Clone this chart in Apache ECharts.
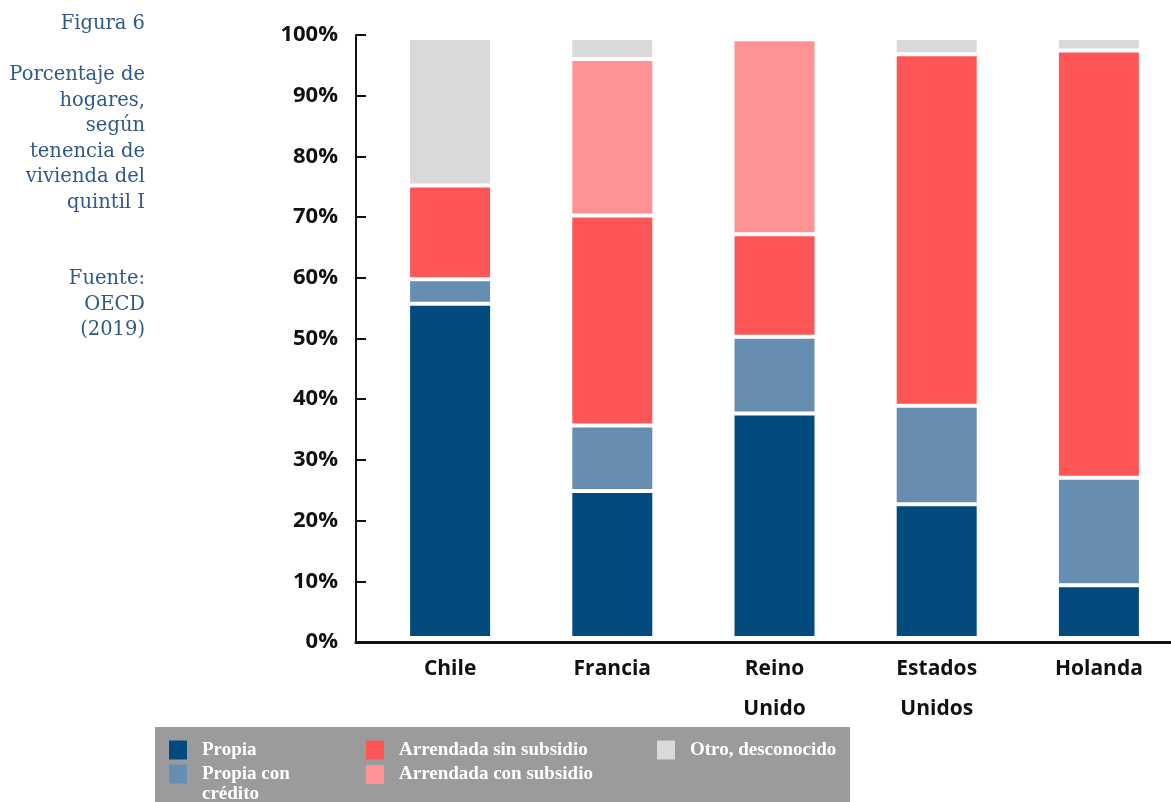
<!DOCTYPE html>
<html>
<head>
<meta charset="utf-8">
<script src="https://cdn.jsdelivr.net/npm/echarts@6/dist/echarts.min.js"></script>
<style>
  html, body { margin: 0; padding: 0; background: #fff; }
  #chart { width: 1171px; height: 802px; }
</style>
</head>
<body>
<div id="chart"></div>
<script>
// Porcentaje de hogares del quintil I según tenencia de vivienda (OECD 2019)
const countries = ['Chile', 'Francia', 'Reino Unido', 'Estados Unidos', 'Holanda'];
const propia = [55.7, 24.5, 37.4, 22.3, 8.8];
const propiaCredito = [4.1, 10.9, 12.8, 16.4, 17.9];
const arrSinSubsidio = [15.6, 35.0, 17.1, 58.6, 71.2];
const arrConSubsidio = [0, 26.1, 32.5, 0, 0];
const otro = [24.6, 3.5, 0, 2.7, 2.1];
const yTicks = [0, 10, 20, 30, 40, 50, 60, 70, 80, 90, 100];

const sideText = [
  'Figura 6', '',
  'Porcentaje de', 'hogares,', 'según', 'tenencia de', 'vivienda del', 'quintil I', '', '',
  'Fuente:', 'OECD', '(2019)'
];

const chart = echarts.init(document.getElementById('chart'));

const barBase = {
  type: 'bar',
  stack: 'total',
  xAxisIndex: 1,
  yAxisIndex: 1,
  barWidth: 84,
  itemStyle: { borderColor: '#fff', borderWidth: 2 }
};

const legendBase = {
  orient: 'vertical',
  top: 740,
  height: 120,
  padding: 0,
  icon: 'rect',
  itemWidth: 18,
  itemHeight: 19,
  itemGap: 4.5,
  itemStyle: { borderWidth: 0 },
  selectedMode: false,
  textStyle: {
    color: '#fff',
    fontFamily: '"Liberation Serif", serif',
    fontWeight: 'bold',
    fontSize: 19,
    lineHeight: 20,
    padding: [0, 0, 0, 10]
  }
};

chart.setOption({
  animation: false,
  backgroundColor: '#fff',
  graphic: [
    {
      type: 'rect',
      shape: { x: 155, y: 727, width: 695, height: 75 },
      style: { fill: '#9b9b9d' },
      z: -1
    },
    {
      type: 'text',
      x: 145,
      y: 11.25,
      style: {
        text: sideText.join('\n'),
        align: 'right',
        verticalAlign: 'top',
        fill: '#2f5a86',
        font: '19.5px "DejaVu Serif", serif',
        lineHeight: 25.5
      }
    }
  ],
  legend: [
    Object.assign({}, legendBase, {
      left: 169,
      // wrapped label: a leading empty line keeps "Propia con" beside its icon
      itemGap: -16,
      data: ['Propia', 'Propia con crédito'],
      formatter: (n) => n === 'Propia con crédito' ? '\nPropia con\ncrédito' : n
    }),
    Object.assign({}, legendBase, {
      left: 366,
      data: ['Arrendada sin subsidio', 'Arrendada con subsidio']
    }),
    Object.assign({}, legendBase, {
      left: 657,
      data: ['Otro, desconocido']
    })
  ],
  grid: [
    // visible axes frame
    { left: 356, right: 0, top: 35, bottom: 160, outerBoundsMode: 'none' },
    // bars
    { left: 369, width: 811, top: 38, bottom: 164, outerBoundsMode: 'none' }
  ],
  xAxis: [
    {
      type: 'value',
      gridIndex: 0,
      min: 0,
      max: 1,
      axisLine: { show: true, lineStyle: { color: '#111', width: 3 } },
      axisTick: { show: false },
      axisLabel: { show: false },
      splitLine: { show: false }
    },
    {
      type: 'category',
      gridIndex: 1,
      data: countries,
      axisLine: { show: false },
      axisTick: { show: false },
      axisLabel: {
        margin: 11,
        color: '#111',
        fontFamily: '"Open Sans", sans-serif',
        fontWeight: 'bold',
        fontSize: 21,
        lineHeight: 40,
        formatter: (v) => v.replace(' ', '\n')
      }
    }
  ],
  yAxis: [
    {
      type: 'value',
      gridIndex: 0,
      min: yTicks[0],
      max: yTicks[yTicks.length - 1],
      interval: 10,
      axisLine: { show: true, lineStyle: { color: '#111', width: 2 } },
      axisTick: { show: true, inside: true, length: 10, lineStyle: { color: '#111', width: 2 } },
      splitLine: { show: false },
      axisLabel: {
        margin: 18,
        color: '#111',
        fontFamily: '"Open Sans", sans-serif',
        fontWeight: 'bold',
        fontSize: 22,
        formatter: '{value}%'
      }
    },
    {
      type: 'value',
      gridIndex: 1,
      min: 0,
      max: 100,
      show: false
    }
  ],
  series: [
    Object.assign({}, barBase, { name: 'Propia', data: propia, color: '#034b7f' }),
    Object.assign({}, barBase, { name: 'Propia con crédito', data: propiaCredito, color: '#678db0' }),
    Object.assign({}, barBase, { name: 'Arrendada sin subsidio', data: arrSinSubsidio, color: '#fe5656' }),
    Object.assign({}, barBase, { name: 'Arrendada con subsidio', data: arrConSubsidio, color: '#ff9294' }),
    Object.assign({}, barBase, { name: 'Otro, desconocido', data: otro, color: '#d9d9d9' })
  ]
});
</script>
</body>
</html>
